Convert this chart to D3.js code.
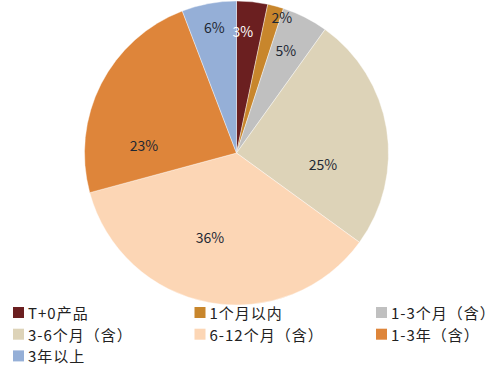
<!DOCTYPE html>
<html><head><meta charset="utf-8">
<script src="https://cdn.jsdelivr.net/npm/d3@7/dist/d3.min.js"></script>
<style>html,body{margin:0;padding:0;background:#fff;overflow:hidden}svg{display:block}</style>
</head><body>
<svg id="c" width="499" height="373"></svg>
<script>
const categories = ["T+0产品","1个月以内","1-3个月（含）","3-6个月（含）","6-12个月（含）","1-3年（含）","3年以上"];
const values = [3.3, 1.7, 4.9, 25.1, 35.8, 23.4, 5.8];
const labels = ["3%","2%","5%","25%","36%","23%","6%"];
const colors = ["#6B1F20","#C8862C","#C0C0C0","#DDD3B8","#FCD6B5","#DE853A","#95AFD7"];
// label anchor layout (angle in degrees clockwise from top, radius in px)
const labelAngle = [3, 18.5, 25.7, 97, 197.5, 275, 350];
const labelRadius = [122, 143, 114, 87, 88, 93, 128];
const labelColor = ["#ffffff","#1d2733","#1d2733","#1d2733","#1d2733","#1d2733","#1d2733"];

const svg = d3.select("#c");
const cx = 236.5, cy = 153, R = 152;
const pie = d3.pie().sort(null).value(d => d)(values);
const arc = d3.arc().innerRadius(0).outerRadius(R);
const g = svg.append("g").attr("transform", `translate(${cx},${cy})`);
g.selectAll("path").data(pie).join("path")
  .attr("d", arc).attr("fill", (d,i) => colors[i])
  .attr("stroke", "#fff").attr("stroke-width", 0.4);
g.selectAll("text").data(pie).join("text")
  .attr("x", (d,i) => labelRadius[i]*Math.sin(labelAngle[i]*Math.PI/180))
  .attr("y", (d,i) => -labelRadius[i]*Math.cos(labelAngle[i]*Math.PI/180))
  .attr("text-anchor","middle").attr("dominant-baseline","central")
  .attr("font-family","'Noto Sans CJK SC','Noto Sans',sans-serif").attr("font-size",14)
  .attr("fill",(d,i)=>labelColor[i])
  .text((d,i)=>labels[i]);

const colX = [13, 194.5, 376];
const rowY = [307, 328.7, 350.4];
const lg = svg.append("g");
categories.forEach((c,i) => {
  const x = colX[i%3], y = rowY[Math.floor(i/3)];
  lg.append("rect").attr("x",x).attr("y",y).attr("width",11).attr("height",11).attr("fill",colors[i]);
  lg.append("text").attr("x",x+15).attr("y",y+5.5).attr("dominant-baseline","central")
    .attr("font-family","'Noto Sans CJK SC','Noto Sans',sans-serif").attr("font-size",15)
    .attr("letter-spacing",1)
    .attr("fill","#222").text(c);
});
</script>
</body></html>
